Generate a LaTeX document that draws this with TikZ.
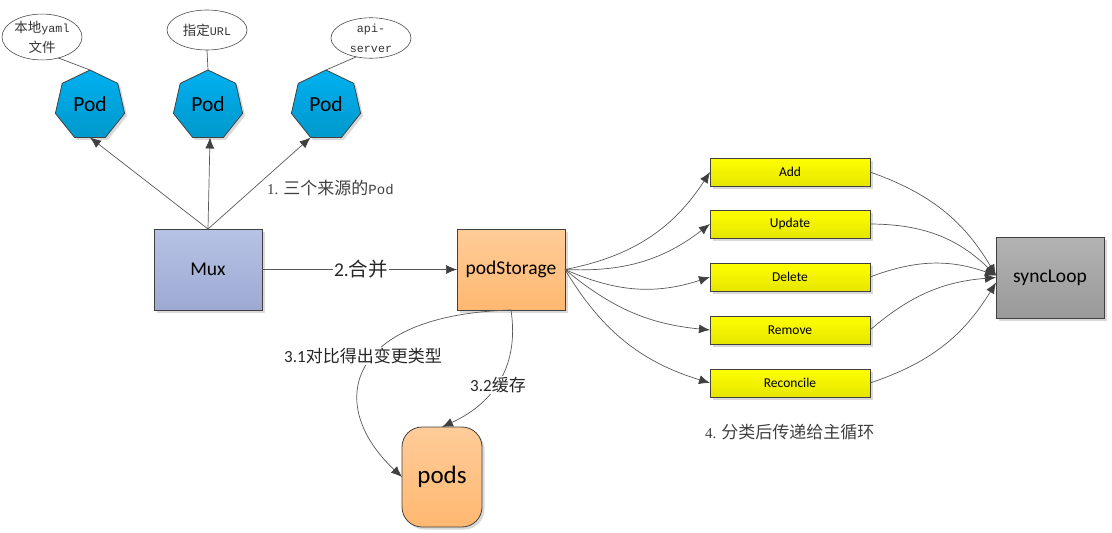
\documentclass[tikz,border=0pt]{standalone}
\usepackage{fontspec}
\setmainfont{Carlito}
\newfontfamily\cjk{Noto Sans CJK SC}
\newfontfamily\monofont{Liberation Mono}
\newfontfamily\numfont{Liberation Serif}
\usetikzlibrary{positioning,calc,arrows.meta,shapes.geometric,shadows}

\newcommand{\zh}[1]{{\cjk #1}}
\newcommand{\fs}[1]{\fontsize{#1}{1.2\dimexpr#1pt\relax}\selectfont}

\definecolor{podtop}{HTML}{00B0F0}
\definecolor{podbot}{HTML}{0099CC}
\definecolor{muxtop}{HTML}{B6C3E5}
\definecolor{muxbot}{HTML}{9EA9D2}
\definecolor{stotop}{HTML}{FFCC99}
\definecolor{stobot}{HTML}{FFB870}
\definecolor{looptop}{HTML}{B3B3B3}
\definecolor{loopbot}{HTML}{999999}

\tikzset{
	boxshadow/.style={drop shadow={shadow xshift=2.5pt, shadow yshift=-2.5pt, fill=black!15, opacity=1}},
	outline/.style={draw=black!75, line width=0.8pt, inner sep=0pt, outer sep=0pt, boxshadow},
	pod/.style={outline, regular polygon, regular polygon sides=7, minimum size=71pt, top color=podtop, bottom color=podbot, font=\fs{21.5}},
	source/.style={draw=black!70, line width=0.6pt, ellipse, minimum width=80pt, minimum height=40pt, inner sep=0pt, outer sep=0pt, align=center, font=\fs{11.7}\monofont, text=black!80},
	bigbox/.style={outline, minimum width=108pt, minimum height=81pt, font=\fs{19.5}},
	kindbox/.style={outline, minimum width=160pt, minimum height=28pt, top color=yellow, bottom color=yellow!90!black, font=\fs{13.5}},
	conn/.style={draw=black!65, line width=0.7pt, -{Latex[length=11pt,width=9pt,color=black!75]}},
	plain/.style={draw=black!65, line width=0.7pt},
	lbl/.style={fill=white, inner sep=1.5pt, text=black!85, font=\fs{17}},
	note/.style={text=black!75, inner sep=0pt}
}

\begin{document}
\begin{tikzpicture}[x=1pt, y=-1pt]
	\useasboundingbox (0, 0) rectangle (1112, 533);

	\node[source] (yaml) at (42, 37) {\fs{13.5}\zh{本地}\fs{11.7}yaml\\[6pt]\fs{13.5}\zh{文件}};
	\node[source] (url) at (207, 30) {\fs{13.5}\zh{指定}\fs{11.7}URL};
	\node[source] (api) at (371, 38) {api-\\[6pt]server};

	\node[pod] (pod1) at (90, 105.5) {\raisebox{3pt}{Pod}};
	\node[pod] (pod2) at (208, 105.5) {\raisebox{3pt}{Pod}};
	\node[pod] (pod3) at (326, 105.5) {\raisebox{3pt}{Pod}};

	\node[bigbox, top color=muxtop, bottom color=muxbot] (mux) at (208, 269.5) {Mux};
	\node[bigbox, top color=stotop, bottom color=stobot] (store) at (511, 269.5) {podStorage};
	\node[outline, rounded corners=20pt, minimum width=80pt, minimum height=100pt, top color=stotop, bottom color=stobot, font=\fs{25}] (pods) at (442, 477) {\raisebox{-2pt}{pods}};
	\node[bigbox, top color=looptop, bottom color=loopbot] (loop) at (1050, 277.5) {syncLoop};

	\node[kindbox] (add) at (790, 172) {Add};
	\node[kindbox] (update) at (790, 224) {Update};
	\node[kindbox] (delete) at (790, 277) {Delete};
	\node[kindbox] (remove) at (790, 330) {Remove};
	\node[kindbox] (reconcile) at (790, 383) {Reconcile};

	\draw[plain] (yaml.-52) to (pod1.corner 1);
	\draw[plain] (url.south) to (pod2.corner 1);
	\draw[plain] (api.232) to (pod3.corner 1);

	\draw[conn] (mux.north) to (pod1.side 4);
	\draw[conn] (mux.north) to ($(pod2.side 4)+(2, 0)$);
	\draw[conn] (mux.north) to (pod3.corner 4);

	\draw[conn] (mux.east) to (store.west);
	\draw[conn] (store.south) .. controls (345, 315) and (325, 405) .. (pods.west);
	\draw[conn] (store.south) .. controls (520, 370) and (490, 405) .. (pods.north);

	\draw[conn] (store.east) to[bend right=23] (add.west);
	\draw[conn] (store.east) to[bend right=20] (update.west);
	\draw[conn] (store.east) to[bend right=21] (delete.west);
	\draw[conn] (store.east) to[bend right=17] (remove.west);
	\draw[conn] (store.east) to[bend right=21] (reconcile.west);

	\draw[conn] (add.east) to[bend left=20] ($(loop.west)+(0, -2)$);
	\draw[conn] (update.east) to[bend left=22] ($(loop.west)+(0, -2)$);
	\draw[conn] (delete.east) to[bend left=20] ($(loop.west)+(0, -2)$);
	\draw[conn] (remove.east) to[bend left=18] (loop.west);
	\draw[conn] (reconcile.east) to[bend right=20] ($(loop.west)+(0, 5)$);

	\node[lbl, font=\fs{19.5}] (merge) at (361, 269) {2.\zh{合并}};
	\node[lbl] (diff) at (363, 356) {3.1\zh{对比得出变更类型}};
	\node[lbl] (cache) at (498, 385) {3.2\zh{缓存}};
	\node[note, anchor=west, font=\fs{14}\monofont] (src) at (267, 188) {{\numfont\fs{15}1.}\hspace{5pt}\fs{17}\zh{三个来源的}\fs{14}Pod};
	\node[note, anchor=west, font=\fs{15}\numfont] (pass) at (705, 432) {4.\hspace{5pt}\fs{17}\zh{分类后传递给主循环}};
\end{tikzpicture}
\end{document}
